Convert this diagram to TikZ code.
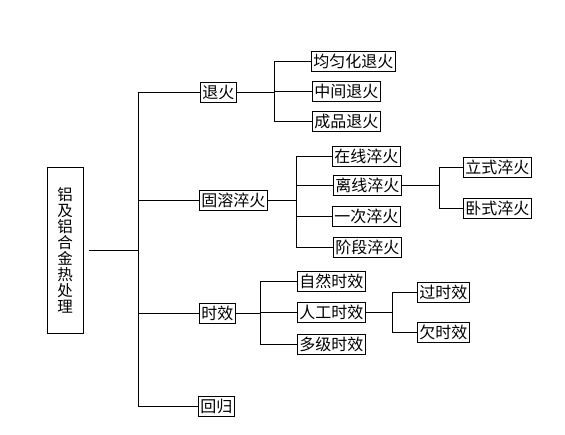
\documentclass[tikz,border=0pt]{standalone}
\usepackage{fontspec}
\setmainfont{Noto Sans CJK SC}
\usetikzlibrary{calc}

\begin{document}
\begin{tikzpicture}[x=1pt,y=-1pt,line width=0.8pt,
		box/.style={draw,line width=0.8pt,anchor=west,inner xsep=2pt,inner ysep=0pt,minimum height=20,font=\fontsize{16}{16}\selectfont},
		link/.style={line width=0.8pt}]
		\useasboundingbox (0,0) rectangle (565,435);
		% root
		\node (root) at (65,250) [draw,line width=0.8pt,minimum width=36,minimum height=166,align=center,inner sep=0pt,font=\fontsize{15.5}{16}\selectfont] {铝\\及\\铝\\合\\金\\热\\处\\理};
		% first level
		\node (tuihuo) at (200,92.5)  [box] {退火};
		\node (gurong) at (199,200)   [box] {固溶淬火};
		\node (shixiao) at (199,313)  [box] {时效};
		\node (huigui) at (198,406)   [box] {回归};
		% annealing
		\node (junhua) at (311,61.5)    [box] {均匀化退火};
		\node (zhongjian) at (312,91)   [box] {中间退火};
		\node (chengpin) at (312,121.5) [box] {成品退火};
		% quenching
		\node (zaixian) at (332,156.5) [box] {在线淬火};
		\node (lixian) at (333,185.5)  [box] {离线淬火};
		\node (yici) at (332,216.5)    [box] {一次淬火};
		\node (jieduan) at (333,247)   [box] {阶段淬火};
		\node (lishi) at (463,167.5)   [box] {立式淬火};
		\node (woshi) at (463,208.5)   [box] {卧式淬火};
		% ageing
		\node (ziran) at (297,281)   [box] {自然时效};
		\node (rengong) at (297,312) [box] {人工时效};
		\node (duoji) at (297,344)   [box] {多级时效};
		\node (guo) at (417,292.5)   [box] {过时效};
		\node (qian) at (417,332.5)  [box] {欠时效};
		% junctions
		\coordinate (trunk) at (138,0);
		\coordinate (jt) at (274,0);
		\coordinate (jg) at (296,0);
		\coordinate (jl) at (439,0);
		\coordinate (js) at (260,0);
		\coordinate (jr) at (392,0);
		% connectors
		\draw[link,shorten <=6pt] (root.east) -- (root.east -| trunk);
		\draw[link] (tuihuo.west -| trunk) -- (huigui.west -| trunk);
		\foreach \n in {tuihuo,gurong,shixiao,huigui}
			\draw[link] (\n.west -| trunk) -- (\n.west);
		\draw[link] (tuihuo.east) -- (tuihuo.east -| jt);
		\draw[link] (junhua.west -| jt) -- (chengpin.west -| jt);
		\foreach \n in {junhua,zhongjian,chengpin}
			\draw[link] (\n.west -| jt) -- (\n.west);
		\draw[link] (gurong.east) -- (gurong.east -| jg);
		\draw[link] (zaixian.west -| jg) -- (jieduan.west -| jg);
		\foreach \n in {zaixian,lixian,yici,jieduan}
			\draw[link] (\n.west -| jg) -- (\n.west);
		\draw[link] (lixian.east) -- (lixian.east -| jl);
		\draw[link] (lishi.west -| jl) -- (woshi.west -| jl);
		\foreach \n in {lishi,woshi}
			\draw[link] (\n.west -| jl) -- (\n.west);
		\draw[link] (shixiao.east) -- (shixiao.east -| js);
		\draw[link] (ziran.west -| js) -- (duoji.west -| js);
		\foreach \n in {ziran,rengong,duoji}
			\draw[link] (\n.west -| js) -- (\n.west);
		\draw[link] (rengong.east) -- (rengong.east -| jr);
		\draw[link] (guo.west -| jr) -- (qian.west -| jr);
		\foreach \n in {guo,qian}
			\draw[link] (\n.west -| jr) -- (\n.west);
	\end{tikzpicture}
\end{document}
